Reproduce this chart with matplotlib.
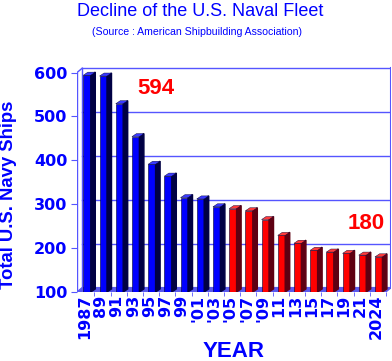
import matplotlib
matplotlib.use("Agg")
import matplotlib.pyplot as plt
import numpy as np

years = ["1987", "89", "91", "93", "95", "97", "99", "'01", "'03", "'05",
         "'07", "'09", "11", "13", "15", "17", "19", "21", "2024"]
ships = [594, 592, 529, 454, 391, 364, 315, 312, 294, 290,
         285, 265, 229, 211, 195, 191, 188, 184, 180]
n_blue = 9  # 1987 to '03 drawn blue, rest red
yticks = [100, 200, 300, 400, 500, 600]

BLUE = "#0000ff"
GRID = "#5555ff"

fig = plt.figure(figsize=(3.92, 3.61), dpi=100)
ax = fig.add_axes([77/392, (361-292)/361, (391-77)/392, (292-66)/361])
xmin, xmax = -0.62, 18.76
ymin, ymax = 100, 615
ax.set_xlim(xmin, xmax)
ax.set_ylim(ymin, ymax)
for s in ax.spines.values():
    s.set_visible(False)

w = 0.46    # front face width
dx = 0.28   # bar depth in x
dy = 7      # bar depth in y
wx = 0.32   # back wall offset
wy = 10

# back wall grid + frame
for t in yticks[1:]:
    ax.plot([xmin + wx, xmax], [t + wy, t + wy], color=GRID, lw=1, zorder=1)
ax.plot([xmax, xmax], [ymin + wy, 600 + wy], color=GRID, lw=1.5, zorder=1)
ax.plot([xmin + wx, xmin + wx], [ymin + wy, 600 + wy], color=GRID, lw=1, zorder=1)
ax.plot([xmin, xmin + wx], [600, 600 + wy], color=GRID, lw=1, zorder=1)
# floor
ax.fill([xmin, xmax - wx, xmax, xmin + wx], [ymin, ymin, ymin + wy, ymin + wy],
        color="#5a5aee", zorder=1)
# front left axis
ax.plot([xmin, xmin], [ymin, 600], color=GRID, lw=1, zorder=2)

x = np.arange(len(years))
for i, v in enumerate(ships):
    if i < n_blue:
        front, side, top = BLUE, "#000044", "#3a3aff"
    else:
        front, side, top = "#ff0000", "#5e0012", "#ff3a3a"
    l = x[i] - w / 2
    r = x[i] + w / 2
    ax.bar(x[i], v - ymin, bottom=ymin, width=w, color=front,
           edgecolor="#000030", linewidth=0.4, zorder=3)
    ax.fill([r, r + dx, r + dx, r], [ymin, ymin + dy, v + dy, v],
            color=side, zorder=3)
    ax.fill([l, r, r + dx, l + dx], [v, v, v + dy, v + dy],
            color=top, edgecolor="#000030", linewidth=0.3, zorder=3)

# axis ticks
ax.set_yticks(yticks)
ax.set_yticklabels([str(t) for t in yticks], color=BLUE, fontsize=11.5,
                   fontweight="bold", family="DejaVu Sans")
ax.tick_params(axis="y", length=4, color=GRID, pad=3)
ax.set_xticks(x - 0.15)
ax.set_xticklabels(years, rotation=90, color=BLUE, fontsize=11.5,
                   fontweight="bold", family="DejaVu Sans")
ax.tick_params(axis="x", length=0, pad=2)
ax.set_xticks(x + 0.45, minor=True)
ax.tick_params(axis="x", which="minor", length=3, color=GRID)

ax.set_ylabel("Total U.S. Navy Ships", color=BLUE, fontsize=13.3,
              fontweight="bold", family="Liberation Sans")
ax.yaxis.set_label_coords(-60/314, 0.43)
ax.set_xlabel("YEAR", color=BLUE, fontsize=16, fontweight="bold",
              family="Liberation Sans", labelpad=1)

ax.text(3.1, 564, str(ships[0]), color="red", fontsize=16, fontweight="bold",
        family="Liberation Sans", ha="left", va="center")
ax.text(18.4, 256, str(ships[-1]), color="red", fontsize=16, fontweight="bold",
        family="Liberation Sans", ha="right", va="center")

fig.text(200/392, 1 - 11/361, "Decline of the U.S. Naval Fleet", color=BLUE,
         fontsize=13, family="Liberation Sans", ha="center", va="center")
fig.text(197/392, 1 - 32/361, "(Source : American Shipbuilding Association)",
         color=BLUE, fontsize=7.6, family="Liberation Sans", ha="center", va="center")

fig.savefig("out.png", dpi=100)
